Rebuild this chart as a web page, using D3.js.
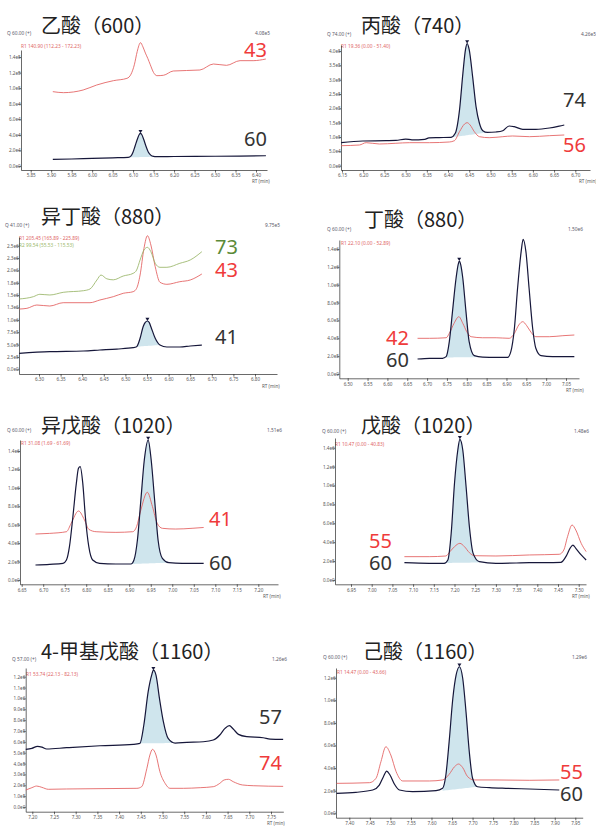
<!DOCTYPE html>
<html><head><meta charset="utf-8">
<script src="https://cdn.jsdelivr.net/npm/d3@7"></script>
<style>body{margin:0;background:#fff}svg{display:block}</style>
</head><body>
<svg id="c" width="596" height="830"></svg>
<script>
// ---------------- DATA ----------------
const titles = ["乙酸（600）","丙酸（740）","异丁酸（880）","丁酸（880）","异戊酸（1020）","戊酸（1020）","4-甲基戊酸（1160）","己酸（1160）"];
const quantHeaders = ["Q 60.00 (+)","Q 74.00 (+)","Q 41.00 (+)","Q 60.00 (+)","Q 60.00 (+)","Q 60.00 (+)","Q 57.00 (+)","Q 60.00 (+)"];
const maxHeaders = ["4.08e5","4.26e5","9.75e5","1.50e6","1.51e6","1.48e6","1.26e6","1.29e6"];
const ratioHeaders = [
  ["R1 140.90 (112.23 - 172.23)"],
  ["R1 19.36 (0.00 - 51.40)"],
  ["R1 205.45 (165.89 - 225.89)","R2 99.54 (55.53 - 115.53)"],
  ["R1 22.10 (0.00 - 52.89)"],
  ["R1 31.08 (1.69 - 61.69)"],
  ["R1 10.47 (0.00 - 40.83)"],
  ["R1 53.74 (22.13 - 82.13)"],
  ["R1 14.47 (0.00 - 43.66)"]
];
// x tick labels (RT, min)
const xTicks1 = [5.85,5.90,5.95,6.00,6.05,6.10,6.15,6.20,6.25,6.30,6.35,6.40];
const xTicks2 = [6.15,6.20,6.25,6.30,6.35,6.40,6.45,6.50,6.55,6.60,6.65,6.70];
const xTicks3 = [6.30,6.35,6.40,6.45,6.50,6.55,6.60,6.65,6.70,6.75,6.80];
const xTicks4 = [6.50,6.55,6.60,6.65,6.70,6.75,6.80,6.85,6.90,6.95,7.00,7.05];
const xTicks5 = [6.65,6.70,6.75,6.80,6.85,6.90,6.95,7.00,7.05,7.10,7.15,7.20];
const xTicks6 = [6.95,7.00,7.05,7.10,7.15,7.20,7.25,7.30,7.35,7.40,7.45,7.50];
const xTicks7 = [7.20,7.25,7.30,7.35,7.40,7.45,7.50,7.55,7.60,7.65,7.70,7.75];
const xTicks8 = [7.40,7.45,7.50,7.55,7.60,7.65,7.70,7.75,7.80,7.85,7.90,7.95];
// y tick values
const yTicks1 = [0,2e4,4e4,6e4,8e4,1e5,1.2e5,1.4e5];
const yTicks2 = [0,5e4,1e5,1.5e5,2e5,2.5e5,3e5,3.5e5,4e5];
const yTicks3 = [0,2.5e5,5e5,7.5e5,1e6,1.25e6,1.5e6,1.75e6,2e6,2.25e6,2.5e6];
const yTicks4 = [0,2e5,4e5,6e5,8e5,1e6,1.2e6,1.4e6];
const yTicks7 = [0,1e5,2e5,3e5,4e5,5e5,6e5,7e5,8e5,9e5,1e6,1.1e6,1.2e6];
const yTicks8 = [0,2e5,4e5,6e5,8e5,1e6,1.2e6];

// ion labels per panel: [ion, series kind]
const ionLabels = [
  [["43","red"],["60","dark"]],
  [["74","dark"],["56","red"]],
  [["73","green"],["43","red"],["41","dark"]],
  [["42","red"],["60","dark"]],
  [["41","red"],["60","dark"]],
  [["55","red"],["60","dark"]],
  [["57","dark"],["74","red"]],
  [["55","red"],["60","dark"]]
];

// Panel 1 乙酸
const p1Quant = [[5.904,8.5e3],[5.95,9.0e3],[6.00,9.8e3],[6.05,10.5e3],[6.088,11e3],[6.095,13e3],[6.100,18e3],[6.105,26e3],[6.110,34e3],[6.115,40.5e3],[6.118,42e3],[6.121,40.5e3],[6.126,34e3],[6.131,26e3],[6.137,18e3],[6.143,14e3],[6.150,12.3e3],[6.156,12e3],[6.20,12.2e3],[6.30,12.5e3],[6.36,12.8e3],[6.424,13.2e3]];
const p1Qual = [[5.904,95.5e3],[5.930,94.2e3],[5.978,97.6e3],[6.011,104e3],[6.052,109.6e3],[6.085,112.6e3],[6.095,118e3],[6.103,130e3],[6.110,147e3],[6.118,158.4e3],[6.124,153e3],[6.130,145e3],[6.136,138e3],[6.142,130e3],[6.150,120e3],[6.158,116e3],[6.174,116.5e3],[6.198,122e3],[6.263,123.3e3],[6.296,131e3],[6.328,129.3e3],[6.361,135.3e3],[6.393,135.3e3],[6.424,137.4e3]];
const p1Window = [[6.088,11e3],[6.156,12e3]];
// Panel 2 丙酸
const p2Quant = [[6.148,80.3e3],[6.199,86.2e3],[6.254,87.2e3],[6.277,88e3],[6.300,93e3],[6.315,90e3],[6.345,92e3],[6.355,97e3],[6.379,98e3],[6.407,99e3],[6.417,113e3],[6.427,194e3],[6.435,322e3],[6.441,404e3],[6.445,426e3],[6.450,404e3],[6.458,310e3],[6.466,206e3],[6.474,148e3],[6.482,122e3],[6.493,116e3],[6.513,117.6e3],[6.529,122e3],[6.544,138.5e3],[6.556,136e3],[6.576,127e3],[6.607,127e3],[6.639,131.5e3],[6.662,138e3],[6.674,142e3]];
const p2Qual = [[6.148,69.8e3],[6.191,72.2e3],[6.207,80.3e3],[6.238,75.7e3],[6.277,78.2e3],[6.309,80.3e3],[6.356,80.3e3],[6.403,82.7e3],[6.415,87.2e3],[6.427,118.6e3],[6.439,145.5e3],[6.445,150e3],[6.452,142e3],[6.462,118.6e3],[6.474,101.2e3],[6.497,97.7e3],[6.529,101.2e3],[6.552,103.6e3],[6.592,101.2e3],[6.639,104.7e3],[6.674,107.1e3]];
const p2Window = [[6.407,99e3],[6.493,116e3]];
// Panel 3 异丁酸
const p3Quant = [[6.254,323.6e3],[6.325,356e3],[6.403,370e3],[6.441,390e3],[6.480,410e3],[6.518,437e3],[6.526,457e3],[6.534,627e3],[6.541,862e3],[6.546,950e3],[6.551,977e3],[6.555,950e3],[6.559,862e3],[6.569,627e3],[6.580,491e3],[6.596,451e3],[6.626,451e3],[6.650,471e3],[6.677,491e3]];
const p3Qual1 = [[6.254,1.219e6],[6.272,1.233e6],[6.295,1.30e6],[6.325,1.28e6],[6.356,1.347e6],[6.418,1.347e6],[6.441,1.402e6],[6.472,1.469e6],[6.495,1.537e6],[6.518,1.57e6],[6.526,1.638e6],[6.534,1.907e6],[6.543,2.447e6],[6.551,2.702e6],[6.559,2.514e6],[6.569,2.075e6],[6.580,1.76e6],[6.596,1.719e6],[6.626,1.772e6],[6.650,1.806e6],[6.677,1.928e6]];
const p3Qual2 = [[6.254,1.422e6],[6.287,1.469e6],[6.302,1.517e6],[6.325,1.503e6],[6.356,1.557e6],[6.403,1.59e6],[6.418,1.624e6],[6.434,1.806e6],[6.4435,1.907e6],[6.457,1.83e6],[6.472,1.81e6],[6.495,1.887e6],[6.518,1.941e6],[6.526,2.008e6],[6.534,2.211e6],[6.543,2.413e6],[6.551,2.467e6],[6.559,2.379e6],[6.569,2.144e6],[6.580,2.063e6],[6.596,2.063e6],[6.626,2.144e6],[6.650,2.211e6],[6.677,2.379e6]];
const p3Window = [[6.526,457e3],[6.580,491e3]];
// Panel 4 丁酸
const p4Quant = [[6.676,168e3],[6.706,175.8e3],[6.739,176e3],[6.748,194e3],[6.756,362e3],[6.764,698e3],[6.773,1.072e6],[6.778,1.22e6],[6.781,1.265e6],[6.785,1.22e6],[6.790,1.072e6],[6.798,698e3],[6.806,362e3],[6.819,205e3],[6.840,190e3],[6.874,187e3],[6.903,187e3],[6.911,250e3],[6.920,512e3],[6.928,960e3],[6.937,1.37e6],[6.942,1.508e6],[6.949,1.37e6],[6.957,960e3],[6.966,512e3],[6.974,288e3],[6.987,205e3],[7.016,194e3],[7.071,194e3]];
const p4Qual = [[6.676,399.6e3],[6.706,399.6e3],[6.748,406e3],[6.756,455.6e3],[6.768,567.7e3],[6.780,641.7e3],[6.790,567.7e3],[6.800,473.7e3],[6.811,417.7e3],[6.840,406e3],[6.874,406e3],[6.907,399.6e3],[6.920,455.6e3],[6.931,548.7e3],[6.941,585.7e3],[6.951,541e3],[6.962,467e3],[6.974,417.7e3],[7.008,417.7e3],[7.042,429e3],[7.071,436.7e3]];
const p4Window = [[6.748,185e3],[6.840,190e3]];
// Panel 5 异戊酸
const p5Quant = [[6.682,162.8e3],[6.715,170e3],[6.746,181e3],[6.754,217e3],[6.761,362e3],[6.769,687e3],[6.777,1.049e6],[6.782,1.212e6],[6.786,1.23e6],[6.792,1.049e6],[6.798,687e3],[6.806,362e3],[6.815,217e3],[6.831,181e3],[6.869,173.6e3],[6.904,173.6e3],[6.911,217e3],[6.919,434e3],[6.927,868e3],[6.935,1.302e6],[6.944,1.519e6],[6.951,1.302e6],[6.959,868e3],[6.967,434e3],[6.977,235e3],[6.992,188e3],[7.023,181e3],[7.073,181e3]];
const p5Qual = [[6.682,499e3],[6.715,506e3],[6.754,524e3],[6.765,615e3],[6.782,749e3],[6.796,651e3],[6.806,550e3],[6.823,524e3],[6.869,517e3],[6.908,524e3],[6.917,578e3],[6.927,760e3],[6.942,952e3],[6.954,796e3],[6.965,615e3],[6.977,561e3],[7.008,553e3],[7.046,561e3],[7.073,570e3]];
const p5Window = [[6.904,173.6e3],[6.992,188e3]];
// Panel 6 戊酸
const p6Quant = [[7.079,183e3],[7.139,176e3],[7.175,176e3],[7.184,212e3],[7.192,494e3],[7.200,1.023e6],[7.208,1.376e6],[7.213,1.489e6],[7.220,1.376e6],[7.228,987e3],[7.236,564e3],[7.245,282e3],[7.260,194e3],[7.300,176e3],[7.381,183e3],[7.457,187e3],[7.469,247e3],[7.479,335e3],[7.486,370e3],[7.493,335e3],[7.506,265e3],[7.518,212e3]];
const p6Qual = [[7.079,247e3],[7.139,247e3],[7.179,254e3],[7.189,300e3],[7.200,353e3],[7.213,388e3],[7.224,353e3],[7.236,289e3],[7.248,257e3],[7.300,254e3],[7.381,265e3],[7.453,272e3],[7.464,317e3],[7.473,458e3],[7.484,582e3],[7.493,529e3],[7.506,388e3],[7.518,300e3]];
const p6Window = [[7.175,180e3],[7.260,185e3]];
// Panel 7 4-甲基戊酸
const p7Quant = [[7.185,531e3],[7.199,540e3],[7.212,559e3],[7.222,552e3],[7.233,534e3],[7.279,546e3],[7.356,564e3],[7.433,577e3],[7.448,586e3],[7.457,755e3],[7.467,1.062e6],[7.475,1.215e6],[7.479,1.26e6],[7.485,1.215e6],[7.493,1.0e6],[7.502,786e3],[7.513,632e3],[7.529,589e3],[7.556,595e3],[7.594,601e3],[7.617,617e3],[7.632,663e3],[7.644,724e3],[7.654,749e3],[7.663,718e3],[7.675,669e3],[7.694,648e3],[7.732,638e3],[7.748,626e3],[7.778,623e3]];
const p7Qual = [[7.185,156.5e3],[7.199,178e3],[7.210,193e3],[7.222,181e3],[7.237,163e3],[7.279,166e3],[7.356,169e3],[7.441,172e3],[7.452,187e3],[7.464,356e3],[7.471,479e3],[7.477,531e3],[7.485,479e3],[7.494,325e3],[7.506,218e3],[7.517,172e3],[7.548,172e3],[7.587,178e3],[7.617,187e3],[7.632,218e3],[7.642,249e3],[7.652,255e3],[7.663,233e3],[7.684,203e3],[7.709,196e3],[7.778,190e3]];
const p7Window = [[7.448,586e3],[7.529,589e3]];
// Panel 8 己酸
const p8Quant = [[7.369,177e3],[7.416,186e3],[7.457,206e3],[7.473,250e3],[7.483,324e3],[7.491,374e3],[7.499,339e3],[7.510,257e3],[7.522,206e3],[7.554,191e3],[7.611,200e3],[7.627,221e3],[7.635,339e3],[7.643,634e3],[7.652,1.018e6],[7.660,1.224e6],[7.668,1.297e6],[7.676,1.195e6],[7.684,899e3],[7.692,545e3],[7.700,310e3],[7.712,235e3],[7.741,227e3],[7.781,221e3],[7.838,215e3],[7.911,206e3]];
const p8Qual = [[7.369,265e3],[7.449,271e3],[7.465,310e3],[7.477,457e3],[7.489,589e3],[7.501,516e3],[7.514,368e3],[7.530,286e3],[7.595,286e3],[7.627,295e3],[7.643,345e3],[7.656,412e3],[7.666,436e3],[7.676,404e3],[7.688,324e3],[7.704,295e3],[7.757,295e3],[7.838,292e3],[7.911,295e3]];
const p8Window = [[7.627,200e3],[7.712,235e3]];

// peak apex (marker) per panel
const peakApex = [[6.118,42e3],[6.445,426e3],[6.551,977e3],[6.781,1.265e6],[6.944,1.519e6],[7.213,1.489e6],[7.479,1.26e6],[7.668,1.297e6]];

// ---------------- LAYOUT (positions only) ----------------
// xCal: [v0,p0,v1,p1], xExt: [left,right] px, axisY; yCal: [v0,p0,v1,p1], yTop px
const layout = [
 {title:[41,33], q:[7,35], mx:[270,35], r:[21,48], xCal:[5.85,30.7,6.40,256], xExt:[21,267], axY:170, yCal:[0,166,1.4e5,57], yTop:50, rt:[252,183], lab:[267,[57,146]]},
 {title:[361,33], q:[327,36], mx:[596,36], r:[341,48], xCal:[6.15,342,6.70,575.3], xExt:[341,590], axY:170, yCal:[0,165.7,4e5,51], yTop:45, rt:[579,183], lab:[586,[107,152]]},
 {title:[41,224], q:[5,227], mx:[280,227], r:[19,240], xCal:[6.30,39,6.80,255], xExt:[19,277], axY:374, yCal:[0,369.3,2.5e6,245.7], yTop:237, rt:[262,388], lab:[238,[254,277,344]]},
 {title:[364,227], q:[327,231], mx:[583,231], r:[341,245], xCal:[6.50,347.7,7.05,566], xExt:[339.3,579], axY:378.3, yCal:[0,374,1.4e6,249], yTop:240, rt:[566,392], lab:[409,[345,367]]},
 {title:[41,433], q:[7,432], mx:[282,432], r:[21,445], xCal:[6.65,21.7,7.20,258.3], xExt:[20,278], axY:584.3, yCal:[0,580,1.4e6,451], yTop:440, rt:[263,598], lab:[232,[526,570]]},
 {title:[361,433], q:[322,433], mx:[589,433], r:[335,446], xCal:[6.95,351,7.50,578.7], xExt:[335,586], axY:584.3, yCal:[0,580,1.4e6,447.7], yTop:438, rt:[572,598], lab:[392,[548,570]]},
 {title:[41,659], q:[12,661], mx:[287,661], r:[26,676], xCal:[7.20,32.3,7.75,271], xExt:[25.7,283.3], axY:811.7, yCal:[0,807,1.2e6,676.7], yTop:668, rt:[267,825], lab:[282,[724,770]]},
 {title:[363,659], q:[323,659], mx:[587,659], r:[337,674], xCal:[7.40,349.3,7.95,575.3], xExt:[336,582.7], axY:817.7, yCal:[0,813.3,1.2e6,677.7], yTop:668, rt:null, lab:[583,[779,801]]}
];

const panelData = [
 {quant:p1Quant, quals:[["red",p1Qual]], win:p1Window, xt:xTicks1, yt:yTicks1},
 {quant:p2Quant, quals:[["red",p2Qual]], win:p2Window, xt:xTicks2, yt:yTicks2},
 {quant:p3Quant, quals:[["red",p3Qual1],["green",p3Qual2]], win:p3Window, xt:xTicks3, yt:yTicks3},
 {quant:p4Quant, quals:[["red",p4Qual]], win:p4Window, xt:xTicks4, yt:yTicks4},
 {quant:p5Quant, quals:[["red",p5Qual]], win:p5Window, xt:xTicks5, yt:yTicks4},
 {quant:p6Quant, quals:[["red",p6Qual]], win:p6Window, xt:xTicks6, yt:yTicks4},
 {quant:p7Quant, quals:[["red",p7Qual]], win:p7Window, xt:xTicks7, yt:yTicks7},
 {quant:p8Quant, quals:[["red",p8Qual]], win:p8Window, xt:xTicks8, yt:yTicks8}
];

// ---------------- STYLE ----------------
const C = {dark:"#16173a", red:"#e35d5d", green:"#98b567", fill:"#cfe5ed", axis:"#2a2a2a", tick:"#555",
  labDark:"#333333", labRed:"#ef3b3b", labGreen:"#5b8a38", hdr:"#5a5a6a", r1:"#e06666", r2:"#9ab86a"};
const smallFont = "Noto Sans, DejaVu Sans, sans-serif";

const svg = d3.select("#c");
const fmtY = d => d3.format(".1e")(d).replace("+","").replace("e-","e-");
const fmtX = d3.format(".2f");

function calibScale(c, a, b){
  const s = d3.scaleLinear().domain([c[0],c[2]]).range([c[1],c[3]]);
  return d3.scaleLinear().domain([s.invert(a), s.invert(b)]).range([a,b]);
}

layout.forEach((L,i)=>{
  const D = panelData[i];
  const g = svg.append("g");
  const x = calibScale(L.xCal, L.xExt[0], L.xExt[1]);
  const y = calibScale([L.yCal[0],L.yCal[1],L.yCal[2],L.yCal[3]], L.axY, L.yTop);

  // title
  g.append("text").attr("x",L.title[0]).attr("y",L.title[1])
    .attr("font-family","Noto Sans CJK SC, sans-serif").attr("font-size",20).attr("fill","#222")
    .text(titles[i]);
  // headers
  g.append("text").attr("x",L.q[0]).attr("y",L.q[1]).attr("font-family",smallFont).attr("font-size",4.8)
    .attr("fill",C.hdr).text(quantHeaders[i]);
  g.append("text").attr("x",L.mx[0]).attr("y",L.mx[1]).attr("text-anchor","end").attr("font-family",smallFont)
    .attr("font-size",4.8).attr("fill",C.hdr).text(maxHeaders[i]);
  ratioHeaders[i].forEach((t,k)=>{
    g.append("text").attr("x",L.r[0]).attr("y",L.r[1]+k*6.5).attr("font-family",smallFont).attr("font-size",4.8)
      .attr("fill",k===0?C.r1:C.r2).text(t);
  });

  // axes
  const [d0,d1] = x.domain();
  const minorX = d3.range(Math.ceil(d0*100-1e-6), Math.floor(d1*100+1e-6)+1).map(v=>v/100);
  const gx = g.append("g").attr("transform",`translate(0,${L.axY})`);
  gx.call(d3.axisBottom(x).tickValues(minorX).tickSize(1.6).tickSizeOuter(0).tickFormat(""));
  gx.call(d3.axisBottom(x).tickValues(D.xt).tickSize(2.6).tickSizeOuter(0).tickFormat(fmtX).tickPadding(1.5));
  gx.selectAll("text").attr("font-size",4.6).attr("font-family",smallFont).attr("fill",C.tick);
  gx.selectAll("path,line").attr("stroke",C.axis).attr("stroke-width",0.7);

  const yt = D.yt, step = yt[1]-yt[0];
  const [e0,e1] = y.domain();
  const minorY = d3.range(Math.ceil(e0/(step/5)), Math.floor(e1/(step/5))+1).map(k=>k*step/5);
  const gy = g.append("g").attr("transform",`translate(${L.xExt[0]},0)`);
  gy.call(d3.axisLeft(y).tickValues(minorY).tickSize(1.6).tickSizeOuter(0).tickFormat(""));
  gy.call(d3.axisLeft(y).tickValues(yt).tickSize(2.6).tickSizeOuter(0).tickFormat(fmtY).tickPadding(-2.2));
  gy.selectAll("text").attr("font-size",4.6).attr("font-family",smallFont).attr("fill",C.tick);
  gy.selectAll("path,line").attr("stroke",C.axis).attr("stroke-width",0.7);

  if(L.rt){
    g.append("text").attr("x",L.rt[0]).attr("y",L.rt[1]).attr("font-family",smallFont).attr("font-size",4.6)
      .attr("fill",C.tick).text("RT (min)");
  }

  const line = d3.line().x(d=>x(d[0])).y(d=>y(d[1])).curve(d3.curveMonotoneX);

  // integrated peak fill
  const w = D.win;
  const inWin = D.quant.filter(d=>d[0]>=w[0][0]-1e-9 && d[0]<=w[1][0]+1e-9);
  const base = rt => w[0][1] + (w[1][1]-w[0][1])*(rt-w[0][0])/(w[1][0]-w[0][0]);
  g.append("path").datum(inWin)
    .attr("d", d3.area().x(d=>x(d[0])).y1(d=>y(d[1])).y0(d=>y(base(d[0]))).curve(d3.curveMonotoneX))
    .attr("fill",C.fill).attr("stroke","none");

  // qualifier traces
  D.quals.forEach(([kind,data])=>{
    g.append("path").datum(data).attr("d",line).attr("fill","none")
      .attr("stroke",kind==="red"?C.red:C.green).attr("stroke-width",0.85);
  });
  // quant trace
  g.append("path").datum(D.quant).attr("d",line).attr("fill","none")
    .attr("stroke",C.dark).attr("stroke-width",1.2);

  // apex marker
  const pk = peakApex[i];
  const px = x(pk[0]), py = y(pk[1]);
  g.append("path").attr("d",`M${px-2},${py-3.2}L${px+2},${py-3.2}L${px},${py}Z`).attr("fill",C.dark);

  // ion labels
  ionLabels[i].forEach(([ion,kind],k)=>{
    g.append("text").attr("x",L.lab[0]).attr("y",L.lab[1][k]).attr("text-anchor","end")
      .attr("font-family","Noto Sans, DejaVu Sans, sans-serif").attr("font-size",20)
      .attr("fill",kind==="red"?C.labRed:kind==="green"?C.labGreen:C.labDark).text(ion);
  });
});
</script>
</body></html>
